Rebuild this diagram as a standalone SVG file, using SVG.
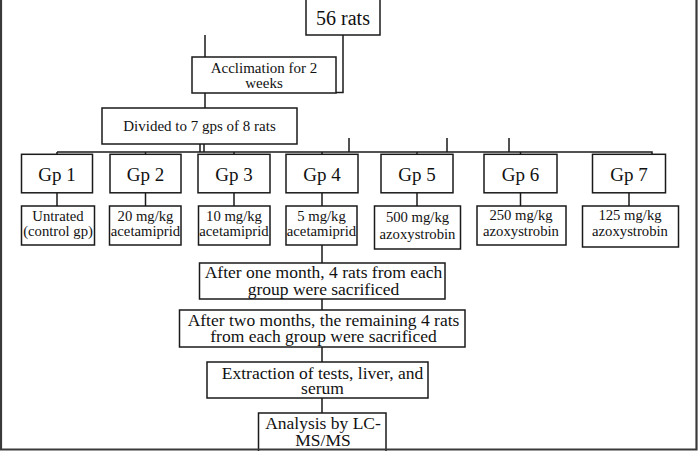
<svg xmlns="http://www.w3.org/2000/svg" width="698" height="451" viewBox="0 0 698 451">
<style>
.box{fill:#fff;stroke:#1a1a1a;stroke-width:1.5}
.ln{stroke:#1a1a1a;stroke-width:1.5;fill:none}
text{font-family:"Liberation Serif","Times New Roman",serif;fill:#111;text-anchor:middle}
.t20{font-size:20px}.t19{font-size:19px}.t15{font-size:15px}.t147{font-size:14.7px}.t175{font-size:17.5px}
</style>
<rect width="698" height="451" fill="#fff"/>
<g id="connectors">
<path class="ln" d="M205 35V57M343 35V92.5H336M205 93V108M200 144V152M204 144V152M57 152H652V154.3"/>
<path class="ln" d="M349 138V152M447 138V152M509 138V152"/>
<path class="ln" d="M57 152V154.3M145.5 152V154.3M234 152V154.3M322 152V154.3M417 152V154.3M520.5 152V154.3"/>
<path class="ln" d="M57 193V206M145.5 193V206M234 193V206M322 193V206M417 193V206M520.5 193V206M629 193V206"/>
<path class="ln" d="M322 245V263M322 299V310M322 347V362M322 398V413"/>
</g>
<g id="n56"><rect class="box" x="306" y="-2" width="74" height="37"/><text class="t20" x="343" y="24.5">56 rats</text></g>
<g id="acclimation"><rect class="box" x="192" y="57" width="144" height="36"/><text class="t15" x="264" y="72.5">Acclimation for 2</text><text class="t15" x="264" y="88">weeks</text></g>
<g id="divided"><rect class="box" x="102" y="108" width="195" height="36"/><text class="t15" x="199.5" y="131">Divided to 7 gps of 8 rats</text></g>
<g id="gp1"><rect class="box" x="21.5" y="154.3" width="71" height="38.5"/><text class="t19" x="57" y="180.5">Gp 1</text></g>
<g id="gp2"><rect class="box" x="110" y="154.3" width="71" height="38.5"/><text class="t19" x="145.5" y="180.5">Gp 2</text></g>
<g id="gp3"><rect class="box" x="198" y="154.3" width="72" height="38.5"/><text class="t19" x="234" y="180.5">Gp 3</text></g>
<g id="gp4"><rect class="box" x="286" y="154.3" width="72" height="38.5"/><text class="t19" x="322" y="180.5">Gp 4</text></g>
<g id="gp5"><rect class="box" x="381" y="154.3" width="72" height="38.5"/><text class="t19" x="417" y="180.5">Gp 5</text></g>
<g id="gp6"><rect class="box" x="484" y="154.3" width="73" height="38.5"/><text class="t19" x="520.5" y="180.5">Gp 6</text></g>
<g id="gp7"><rect class="box" x="592.5" y="154.3" width="73" height="38.5"/><text class="t19" x="629" y="180.5">Gp 7</text></g>
<g id="d1"><rect class="box" x="21.5" y="206" width="73" height="39"/><text class="t147" x="58" y="221">Untrated</text><text class="t147" x="58" y="236">(control gp)</text></g>
<g id="d2"><rect class="box" x="109.5" y="206" width="71.5" height="39"/><text class="t147" x="145.5" y="221">20 mg/kg</text><text class="t147" x="145.5" y="236">acetamiprid</text></g>
<g id="d3"><rect class="box" x="198.5" y="206" width="71.5" height="39"/><text class="t147" x="234" y="221">10 mg/kg</text><text class="t147" x="234" y="236">acetamiprid</text></g>
<g id="d4"><rect class="box" x="286" y="206" width="71" height="39"/><text class="t147" x="321.5" y="221">5 mg/kg</text><text class="t147" x="321.5" y="236">acetamiprid</text></g>
<g id="d5"><rect class="box" x="374.5" y="206" width="86" height="43"/><text class="t147" x="417.5" y="222">500 mg/kg</text><text class="t147" x="417.5" y="239">azoxystrobin</text></g>
<g id="d6"><rect class="box" x="477" y="206" width="89" height="39"/><text class="t147" x="521" y="219.5">250 mg/kg</text><text class="t147" x="521" y="235.5">azoxystrobin</text></g>
<g id="d7"><rect class="box" x="582.5" y="206" width="96" height="41"/><text class="t147" x="630" y="220">125 mg/kg</text><text class="t147" x="630" y="236">azoxystrobin</text></g>
<g id="onemonth"><rect class="box" x="199.5" y="263" width="245.5" height="36"/><text class="t175" x="323.5" y="278">After one month, 4 rats from each</text><text class="t175" x="323.5" y="295">group were sacrificed</text></g>
<g id="twomonths"><rect class="box" x="179.5" y="310" width="285.5" height="37"/><text class="t175" x="323.5" y="325.5">After two months, the remaining 4 rats</text><text class="t175" x="323.5" y="342">from each group were sacrificed</text></g>
<g id="extraction"><rect class="box" x="207" y="362" width="221" height="36"/><text class="t175" x="322.5" y="378.5">Extraction of tests, liver, and</text><text class="t175" x="322.5" y="394">serum</text></g>
<g id="analysis"><rect class="box" x="258.5" y="413" width="127.5" height="45"/><text class="t175" x="323" y="429">Analysis by LC-</text><text class="t175" x="323" y="445.5">MS/MS</text></g>
<g id="frame"><path d="M1 0V449.5H696.5V0" fill="none" stroke="#3a3a3a" stroke-width="2.2"/></g>
</svg>
